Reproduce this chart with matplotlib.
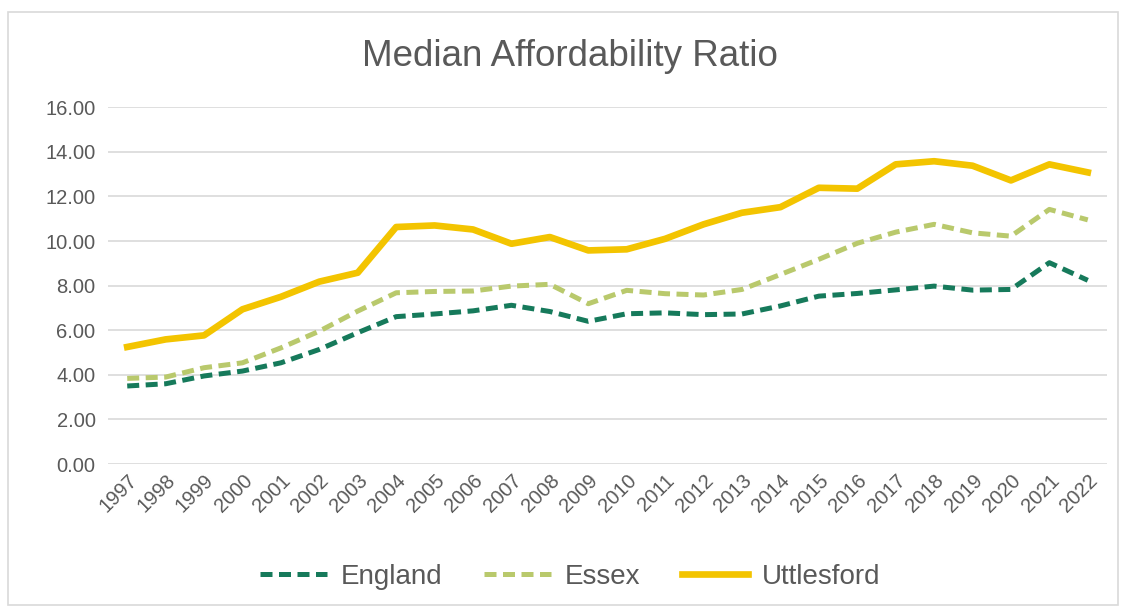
import matplotlib.pyplot as plt
from matplotlib.patches import Rectangle

plt.rcParams['font.family'] = ['Liberation Sans', 'DejaVu Sans']

years = [str(y) for y in range(1997, 2023)]

# median house price to median earnings ratio
england = [3.50, 3.60, 3.95, 4.17, 4.54, 5.14, 5.89, 6.61, 6.73, 6.87, 7.12, 6.84,
           6.40, 6.74, 6.78, 6.70, 6.73, 7.09, 7.53, 7.65, 7.81, 7.98, 7.80, 7.83,
           9.03, 8.24]
essex = [3.84, 3.90, 4.32, 4.54, 5.21, 5.96, 6.86, 7.68, 7.74, 7.76, 7.98, 8.06,
         7.19, 7.79, 7.64, 7.58, 7.83, 8.50, 9.18, 9.90, 10.40, 10.75, 10.37, 10.22,
         11.42, 10.95]
uttlesford = [5.25, 5.59, 5.77, 6.94, 7.50, 8.18, 8.58, 10.63, 10.70, 10.52, 9.88, 10.18,
              9.58, 9.63, 10.10, 10.75, 11.27, 11.52, 12.39, 12.35, 13.44, 13.58, 13.38, 12.72,
              13.44, 13.08]

grey = '#595959'
x = range(len(years))

fig = plt.figure(figsize=(11.25, 6.13), dpi=100)
ax = fig.add_axes([0.096, 0.243, 0.888, 0.582])

ax.plot(x, england, color='#167a5b', lw=3.6, ls=(0, (2.4, 1.3)), label='England')
ax.plot(x, essex, color='#b9c96c', lw=3.6, ls=(0, (2.4, 1.3)), label='Essex')
ax.plot(x, uttlesford, color='#f3c400', lw=4.8, label='Uttlesford', solid_joinstyle='round')

ax.set_xlim(-0.5, len(years) - 0.5)
ax.set_ylim(0, 16)
ax.set_yticks(range(0, 17, 2))
ax.set_yticklabels([f'{v:.2f}' for v in range(0, 17, 2)])
ax.set_xticks(list(x))
ax.set_xticklabels(years, rotation=45, ha='right', va='top', rotation_mode='anchor')
ax.tick_params(length=0, labelsize=14.5, labelcolor=grey, pad=9)
ax.tick_params(axis='x', pad=5)

ax.grid(axis='y', color='#d9d9d9', lw=1.2)
ax.set_axisbelow(True)
for s in ax.spines.values():
    s.set_visible(False)

fig.text(0.507, 0.908, 'Median Affordability Ratio', ha='center', va='center',
         fontsize=26.5, color=grey)

fig.legend(loc='center', bbox_to_anchor=(0.507, 0.059), ncol=3, frameon=False,
           fontsize=20, labelcolor=grey, handlelength=2.4, handletextpad=0.5,
           columnspacing=1.5)

# chart border
fig.patches.append(Rectangle((8 / 1125, 8 / 613), 1110 / 1125, 593 / 613,
                             transform=fig.transFigure, fill=False,
                             edgecolor='#d9d9d9', lw=1.2))

fig.savefig('out.png', dpi=100, facecolor='white')
